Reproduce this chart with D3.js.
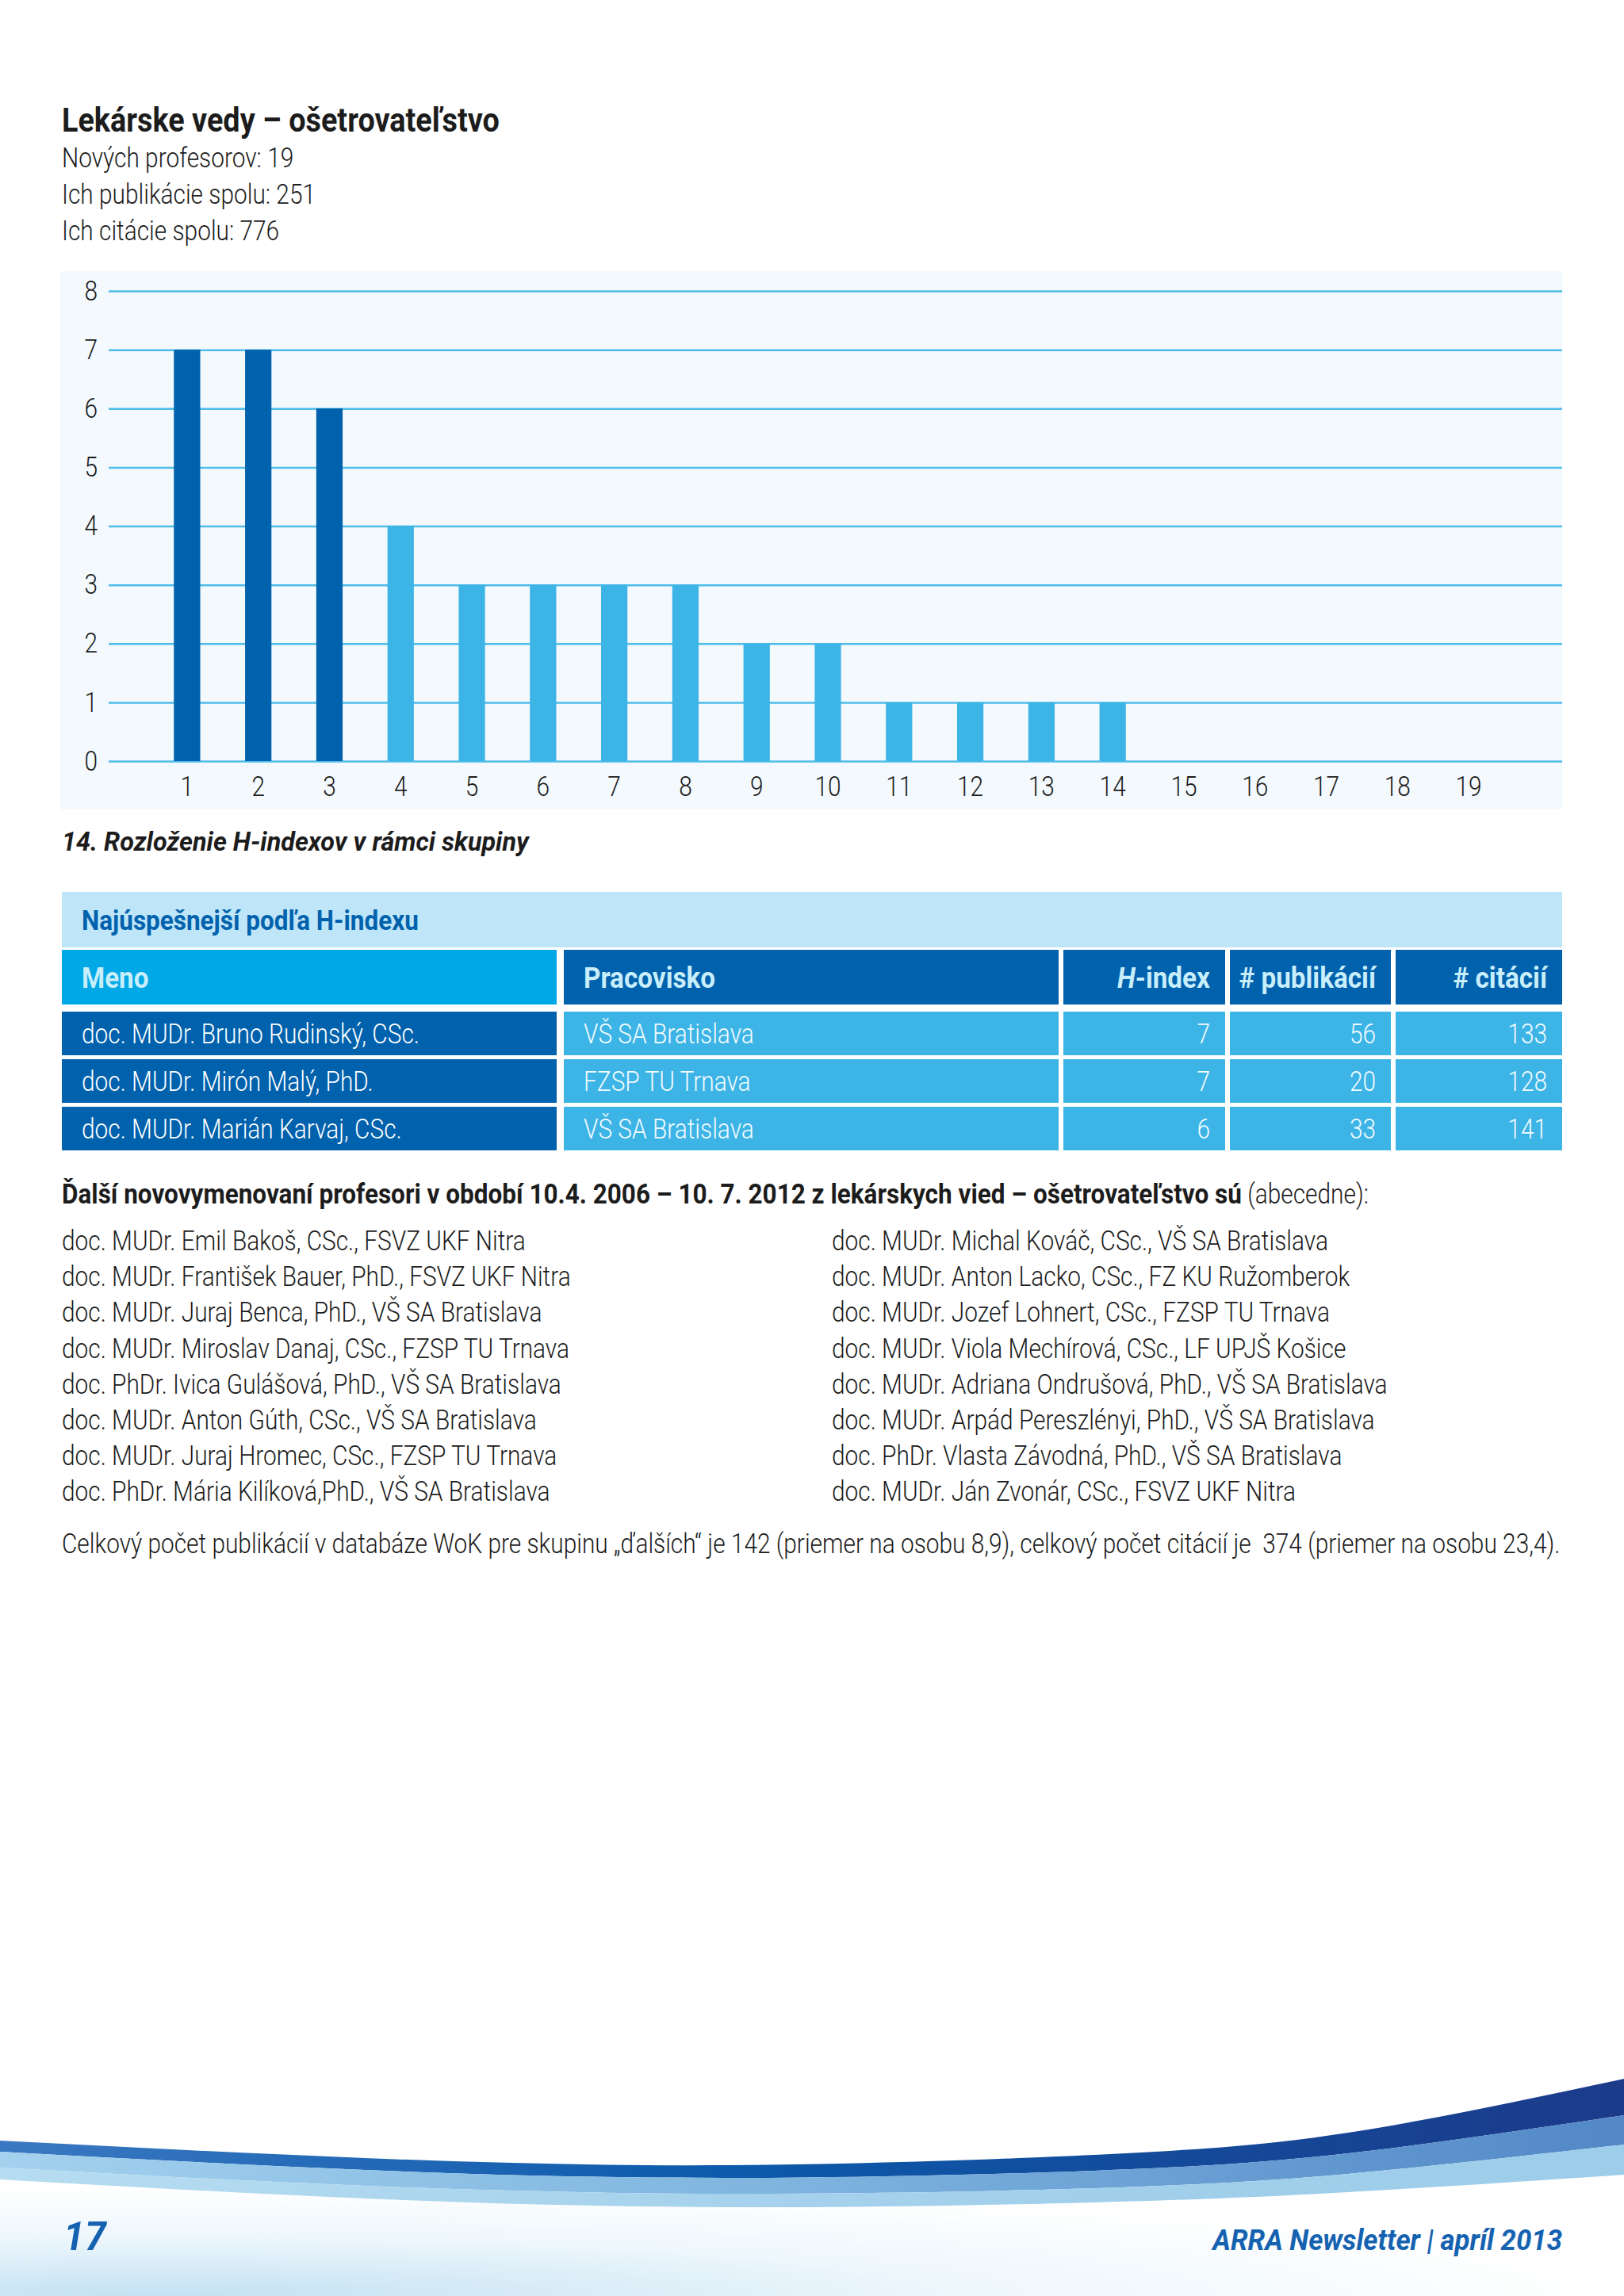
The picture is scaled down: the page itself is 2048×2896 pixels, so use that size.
<!DOCTYPE html>
<html>
<head>
<meta charset="utf-8">
<script src="https://cdn.jsdelivr.net/npm/d3@7"></script>
<style>
body { margin: 0; background: #fff; }
svg { display: block; }
text { font-family: Roboto, "Noto Sans", sans-serif; }
</style>
</head>
<body>
<script>
"use strict"

var W = 2048, H = 2896;

// ---- data ----
var title = "Lekárske vedy – ošetrovateľstvo";
var stats = ["Nových profesorov: 19", "Ich publikácie spolu: 251", "Ich citácie spolu: 776"];

var ranks = ["1","2","3","4","5","6","7","8","9","10","11","12","13","14","15","16","17","18","19"];
var hIndex = [7, 7, 6, 4, 3, 3, 3, 3, 2, 2, 1, 1, 1, 1, 0, 0, 0, 0, 0];
var yTicks = [0, 1, 2, 3, 4, 5, 6, 7, 8];
var caption = "14. Rozloženie H-indexov v rámci skupiny";

var tableTitle = "Najúspešnejší podľa H-indexu";
var topNames = ["doc. MUDr. Bruno Rudinský, CSc.", "doc. MUDr. Mirón Malý, PhD.", "doc. MUDr. Marián Karvaj, CSc."];
var topPlaces = ["VŠ SA Bratislava", "FZSP TU Trnava", "VŠ SA Bratislava"];
var topH = [7, 7, 6];
var topPubs = [56, 20, 33];
var topCites = [133, 128, 141];

var othersLeft = [
    "doc. MUDr. Emil Bakoš, CSc., FSVZ UKF Nitra",
    "doc. MUDr. František Bauer, PhD., FSVZ UKF Nitra",
    "doc. MUDr. Juraj Benca, PhD., VŠ SA Bratislava",
    "doc. MUDr. Miroslav Danaj, CSc., FZSP TU Trnava",
    "doc. PhDr. Ivica Gulášová, PhD., VŠ SA Bratislava",
    "doc. MUDr. Anton Gúth, CSc., VŠ SA Bratislava",
    "doc. MUDr. Juraj Hromec, CSc., FZSP TU Trnava",
    "doc. PhDr. Mária Kilíková,PhD., VŠ SA Bratislava"
];
var othersRight = [
    "doc. MUDr. Michal Kováč, CSc., VŠ SA Bratislava",
    "doc. MUDr. Anton Lacko, CSc., FZ KU Ružomberok",
    "doc. MUDr. Jozef Lohnert, CSc., FZSP TU Trnava",
    "doc. MUDr. Viola Mechírová, CSc., LF UPJŠ Košice",
    "doc. MUDr. Adriana Ondrušová, PhD., VŠ SA Bratislava",
    "doc. MUDr. Arpád Pereszlényi, PhD., VŠ SA Bratislava",
    "doc. PhDr. Vlasta Závodná, PhD., VŠ SA Bratislava",
    "doc. MUDr. Ján Zvonár, CSc., FSVZ UKF Nitra"
];
var othersHeadBold = "Ďalší novovymenovaní profesori v období 10.4. 2006 – 10. 7. 2012 z lekárskych vied – ošetrovateľstvo sú";
var othersHeadRest = " (abecedne):";
var summary = "Celkový počet publikácií v databáze WoK pre skupinu „ďalších“ je 142 (priemer na osobu 8,9), celkový počet citácií je  374 (priemer na osobu 23,4).";

var pageNo = "17";
var footer = "ARRA Newsletter | apríl 2013";

// ---- colours ----
var darkBlue = "#0061ad";
var lightBlue = "#3db4e6";
var cyan = "#00a9e6";
var paleBlue = "#bfe6f8";
var ink = "#1c1c1c";

var svg = d3.select("body").append("svg")
    .attr("width", W)
    .attr("height", H);

var defs = svg.append("defs");

// the page font is a narrow DIN; squeeze the installed one to the same width
function squeeze(str, size, weight, style, target) {
    var p = svg.append("text")
        .style("font-size", size + "px")
        .style("font-weight", weight)
        .style("font-style", style)
        .style("white-space", "pre")
        .text(str);
    var k = target / p.node().getComputedTextLength();
    p.remove();
    return k;
}
var K = squeeze(othersLeft[0], 35, 300, "normal", 585);
var KB = squeeze(tableTitle, 35, 700, "normal", 425);
var KI = squeeze(footer, 36, 700, "italic", 441);

function condense(k) {
    return function (sel) {
        sel.each(function () {
            var t = d3.select(this);
            var x = +t.attr("x") || 0;
            t.attr("transform", "translate(" + x + ",0) scale(" + k + ",1) translate(" + (-x) + ",0)");
        });
    };
}

// ---- heading ----
svg.append("text")
    .attr("x", 78).attr("y", 166)
    .style("font-size", "42px").style("font-weight", "700")
    .attr("fill", ink)
    .text(title)
    .call(condense(KB));

svg.selectAll("text.stat")
    .data(stats).enter()
    .append("text")
    .attr("class", "stat")
    .attr("x", 78)
    .attr("y", function (d, i) { return 211 + i * 46; })
    .style("font-size", "35px").style("font-weight", "300")
    .attr("fill", ink)
    .text(function (d) { return d; })
    .call(condense(K));

// ---- chart ----
var x = d3.scaleBand()
    .domain(ranks)
    .range([191, 1897])
    .paddingInner(0.63)
    .paddingOuter(0.315);

var y = d3.scaleLinear()
    .domain([0, 8])
    .range([960, 367]);

svg.append("rect")
    .attr("x", 76).attr("y", 342)
    .attr("width", 1970 - 76).attr("height", 1021 - 342)
    .attr("fill", "#f3f9fd");

var yAxis = svg.append("g")
    .attr("transform", "translate(137,0)")
    .call(d3.axisLeft(y).tickValues(yTicks).tickSize(-(1970 - 137)).tickPadding(14));
yAxis.select(".domain").remove();
yAxis.selectAll("line").attr("stroke", "#4fbdea").attr("stroke-width", 2.5);
yAxis.selectAll("text")
    .attr("fill", ink)
    .style("font-size", "35px").style("font-weight", "300")
    .style("font-family", "Roboto, sans-serif")
    .call(condense(K));

svg.selectAll("rect.bar")
    .data(hIndex).enter()
    .append("rect")
    .attr("class", "bar")
    .attr("x", function (d, i) { return x(ranks[i]); })
    .attr("y", function (d) { return y(d); })
    .attr("width", x.bandwidth())
    .attr("height", function (d) { return y(0) - y(d); })
    .attr("fill", function (d, i) { return i < topNames.length ? darkBlue : lightBlue; });

var xAxis = svg.append("g")
    .attr("transform", "translate(0," + y(0) + ")")
    .call(d3.axisBottom(x).tickSize(0).tickPadding(19));
xAxis.select(".domain").remove();
xAxis.selectAll("text")
    .attr("fill", ink)
    .style("font-size", "35px").style("font-weight", "300")
    .style("font-family", "Roboto, sans-serif")
    .call(condense(K));

svg.append("text")
    .attr("x", 78).attr("y", 1073)
    .style("font-size", "33.5px").style("font-weight", "700").style("font-style", "italic")
    .attr("fill", ink)
    .text(caption)
    .call(condense(KI));

// ---- table ----
var colX = [78, 711, 1341, 1551, 1760];
var colW = [624, 624, 204, 203, 210];
var rowY = 1276, rowH = 55, rowStep = 60;

svg.append("rect")
    .attr("x", 78).attr("y", 1125)
    .attr("width", 1970 - 78).attr("height", 70)
    .attr("fill", paleBlue);

svg.append("text")
    .attr("x", 103).attr("y", 1173)
    .style("font-size", "35px").style("font-weight", "700")
    .attr("fill", darkBlue)
    .text(tableTitle)
    .call(condense(KB));

var head = svg.append("g");
head.selectAll("rect")
    .data(colX).enter()
    .append("rect")
    .attr("x", function (d) { return d; })
    .attr("y", 1198)
    .attr("width", function (d, i) { return colW[i]; })
    .attr("height", 69)
    .attr("fill", function (d, i) { return i === 0 ? cyan : darkBlue; });

function cellX(i) { return i < 2 ? colX[i] + 25 : colX[i] + colW[i] - 19; }

var headText = head.append("g")
    .style("font-size", "37px").style("font-weight", "700")
    .attr("fill", "#c8eefb");
headText.append("text").attr("x", cellX(0)).attr("y", 1246).text("Meno");
headText.append("text").attr("x", cellX(1)).attr("y", 1246).text("Pracovisko");
var hHead = headText.append("text").attr("x", cellX(2)).attr("y", 1246).attr("text-anchor", "end");
hHead.append("tspan").style("font-style", "italic").text("H");
hHead.append("tspan").text("-index");
headText.append("text").attr("x", cellX(3)).attr("y", 1246).attr("text-anchor", "end").text("# publikácií");
headText.append("text").attr("x", cellX(4)).attr("y", 1246).attr("text-anchor", "end").text("# citácií");
headText.selectAll("text").call(condense(KB));

var rows = svg.selectAll("g.row")
    .data(topNames).enter()
    .append("g")
    .attr("class", "row")
    .attr("transform", function (d, i) { return "translate(0," + (rowY + i * rowStep) + ")"; });

rows.each(function (d, r) {
    var g = d3.select(this);
    var cells = [topNames[r], topPlaces[r], topH[r], topPubs[r], topCites[r]];
    g.selectAll("rect")
        .data(cells).enter()
        .append("rect")
        .attr("x", function (c, i) { return colX[i]; })
        .attr("y", 0)
        .attr("width", function (c, i) { return colW[i]; })
        .attr("height", rowH)
        .attr("fill", function (c, i) { return i === 0 ? darkBlue : lightBlue; });
    g.selectAll("text")
        .data(cells).enter()
        .append("text")
        .attr("x", function (c, i) { return cellX(i); })
        .attr("y", 40)
        .attr("text-anchor", function (c, i) { return i < 2 ? "start" : "end"; })
        .style("font-size", "35px").style("font-weight", "300")
        .attr("fill", function (c, i) { return i === 0 ? "#ffffff" : "#f2fbff"; })
        .text(function (c) { return c; })
        .call(condense(K));
});

// ---- other professors ----
// bold lead-in and light tail share one line, so lay them out as two texts
var ohBold = svg.append("text")
    .attr("x", 78).attr("y", 1518)
    .style("font-size", "35px").style("font-weight", "700")
    .attr("fill", ink)
    .text(othersHeadBold)
    .call(condense(KB));
var boldEnd = 78 + ohBold.node().getComputedTextLength() * KB;
svg.append("text")
    .attr("x", boldEnd).attr("y", 1518)
    .style("font-size", "35px").style("font-weight", "300")
    .style("white-space", "pre")
    .attr("fill", ink)
    .text(othersHeadRest)
    .call(condense(K));

function listColumn(items, x0) {
    svg.append("g").selectAll("text")
        .data(items).enter()
        .append("text")
        .attr("x", x0)
        .attr("y", function (d, i) { return 1577 + i * 45.2; })
        .style("font-size", "35px").style("font-weight", "300")
        .attr("fill", ink)
        .text(function (d) { return d; })
        .call(condense(K));
}
listColumn(othersLeft, 78);
listColumn(othersRight, 1049);

svg.append("text")
    .attr("x", 78).attr("y", 1959)
    .style("font-size", "35px").style("font-weight", "300")
    .style("white-space", "pre")
    .attr("fill", ink)
    .text(summary)
    .call(condense(K));

// ---- footer wave ----
var waveX = [0, 460, 920, 1380, 1700, 2048];
var edges = [
    [2700, 2722, 2731, 2718, 2690, 2622],
    [2714, 2737, 2747, 2738, 2716, 2668],
    [2734, 2757, 2767, 2760, 2742, 2705],
    [2749, 2773, 2784, 2778, 2765, 2743]
];

function grad(id, stops) {
    var g = defs.append("linearGradient").attr("id", id)
        .attr("x1", 0).attr("y1", 0).attr("x2", 1).attr("y2", 0);
    stops.forEach(function (s) {
        g.append("stop").attr("offset", s[0]).attr("stop-color", s[1]);
    });
}
grad("band0", [[0, "#3a78c2"], [0.45, "#0c5aab"], [1, "#1c3a8a"]]);
grad("band1", [[0, "#a3d1ee"], [0.5, "#7db3de"], [1, "#5288c7"]]);
grad("band2", [[0, "#b6dcf1"], [0.5, "#a5d1ec"], [1, "#9ccde9"]]);

var bgGrad = defs.append("radialGradient").attr("id", "floor")
    .attr("cx", 0.1).attr("cy", 1).attr("r", 0.9);
bgGrad.append("stop").attr("offset", 0).attr("stop-color", "#c3e1f3");
bgGrad.append("stop").attr("offset", 0.55).attr("stop-color", "#eef7fc");
bgGrad.append("stop").attr("offset", 1).attr("stop-color", "#ffffff");

var edgeLine = d3.line().curve(d3.curveNatural);
function bandPath(top, bottom) {
    var a = waveX.map(function (v, i) { return [v, top[i]]; });
    var b = waveX.map(function (v, i) { return [v, bottom[i]]; }).reverse();
    return edgeLine(a) + "L" + edgeLine(b).slice(1) + "Z";
}

var floorTop = waveX.map(function (v, i) { return [v, edges[3][i]]; });
svg.append("path")
    .attr("d", edgeLine(floorTop) + "L" + W + "," + H + "L0," + H + "Z")
    .attr("fill", "url(#floor)");

["band0", "band1", "band2"].forEach(function (id, k) {
    svg.append("path")
        .attr("d", bandPath(edges[k], edges[k + 1]))
        .attr("fill", "url(#" + id + ")");
});

svg.append("text")
    .attr("x", 80).attr("y", 2838)
    .style("font-size", "50px").style("font-weight", "700").style("font-style", "italic")
    .attr("fill", "#1562b1")
    .text(pageNo)
    .call(condense(KI));

svg.append("text")
    .attr("x", 1970).attr("y", 2838)
    .attr("text-anchor", "end")
    .style("font-size", "36px").style("font-weight", "700").style("font-style", "italic")
    .attr("fill", "#1562b1")
    .text(footer)
    .call(condense(KI));
</script>
</body>
</html>
